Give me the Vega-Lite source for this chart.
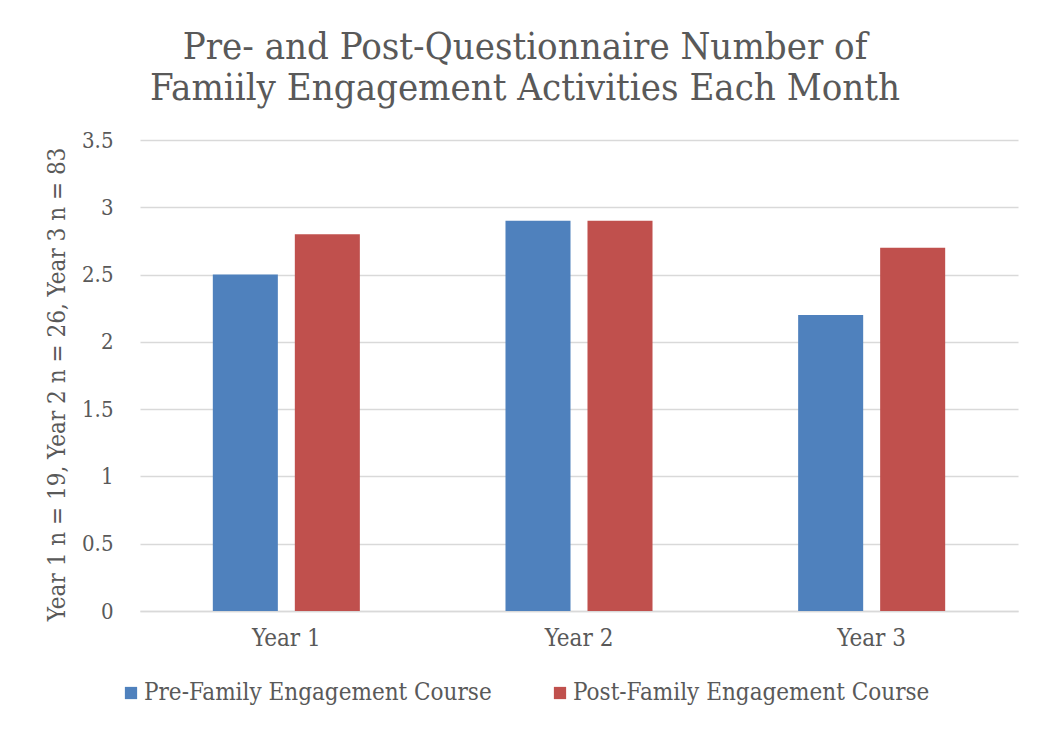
{
  "$schema": "https://vega.github.io/schema/vega-lite/v6.json",
  "autosize": "none",
  "width": 878,
  "height": 471,
  "padding": {"left": 140, "top": 140, "right": 31, "bottom": 120},
  "background": "#ffffff",
  "title": {
    "text": ["Pre- and Post-Questionnaire Number of", "Famiily Engagement Activities Each Month"],
    "font": "DejaVu Serif Condensed",
    "fontSize": 38,
    "fontWeight": "normal",
    "color": "#595959",
    "anchor": "middle",
    "lineHeight": 41,
    "offset": 21,
    "dx": -54
  },
  "data": {
    "values": [
      {"year": "Year 1", "series": "Pre-Family Engagement Course", "value": 2.5},
      {"year": "Year 1", "series": "Post-Family Engagement Course", "value": 2.8},
      {"year": "Year 2", "series": "Pre-Family Engagement Course", "value": 2.9},
      {"year": "Year 2", "series": "Post-Family Engagement Course", "value": 2.9},
      {"year": "Year 3", "series": "Pre-Family Engagement Course", "value": 2.2},
      {"year": "Year 3", "series": "Post-Family Engagement Course", "value": 2.7}
    ]
  },
  "mark": {"type": "bar"},
  "encoding": {
    "x": {
      "field": "year",
      "type": "nominal",
      "scale": {"paddingInner": 0, "paddingOuter": 0},
      "axis": {
        "title": null,
        "labelAngle": 0,
        "labelFont": "DejaVu Serif Condensed",
        "labelFontSize": 24,
        "labelColor": "#595959",
        "labelPadding": 15,
        "ticks": false,
        "domainColor": "#d9d9d9",
        "domainWidth": 1.5
      }
    },
    "xOffset": {
      "field": "series",
      "type": "nominal",
      "sort": ["Pre-Family Engagement Course", "Post-Family Engagement Course"],
      "scale": {"paddingInner": 0.207, "paddingOuter": 0.888}
    },
    "y": {
      "field": "value",
      "type": "quantitative",
      "scale": {"domain": [0, 3.5], "nice": false},
      "axis": {
        "title": "Year 1 n = 19, Year 2 n = 26, Year 3 n = 83",
        "titleFont": "DejaVu Serif Condensed",
        "titleFontSize": 24,
        "titleFontWeight": "normal",
        "titleColor": "#595959",
        "titlePadding": 12,
        "titleY": 244,
        "values": [0, 0.5, 1, 1.5, 2, 2.5, 3, 3.5],
        "format": "~g",
        "labelFont": "DejaVu Serif Condensed",
        "labelFontSize": 22,
        "labelColor": "#595959",
        "labelPadding": 27,
        "ticks": false,
        "domain": false,
        "gridColor": "#d9d9d9",
        "gridWidth": 1.5
      }
    },
    "color": {
      "field": "series",
      "type": "nominal",
      "sort": ["Pre-Family Engagement Course", "Post-Family Engagement Course"],
      "scale": {"range": ["#4f81bd", "#c0504d"]},
      "legend": {
        "title": null,
        "orient": "none",
        "legendX": -21,
        "legendY": 541,
        "direction": "horizontal",
        "symbolType": "square",
        "symbolSize": 150,
        "symbolStrokeWidth": 0,
        "labelFont": "DejaVu Serif Condensed",
        "labelFontSize": 24,
        "labelColor": "#595959",
        "labelLimit": 500,
        "labelOffset": 1,
        "columnPadding": 56
      }
    }
  },
  "config": {
    "view": {"stroke": null}
  }
}
